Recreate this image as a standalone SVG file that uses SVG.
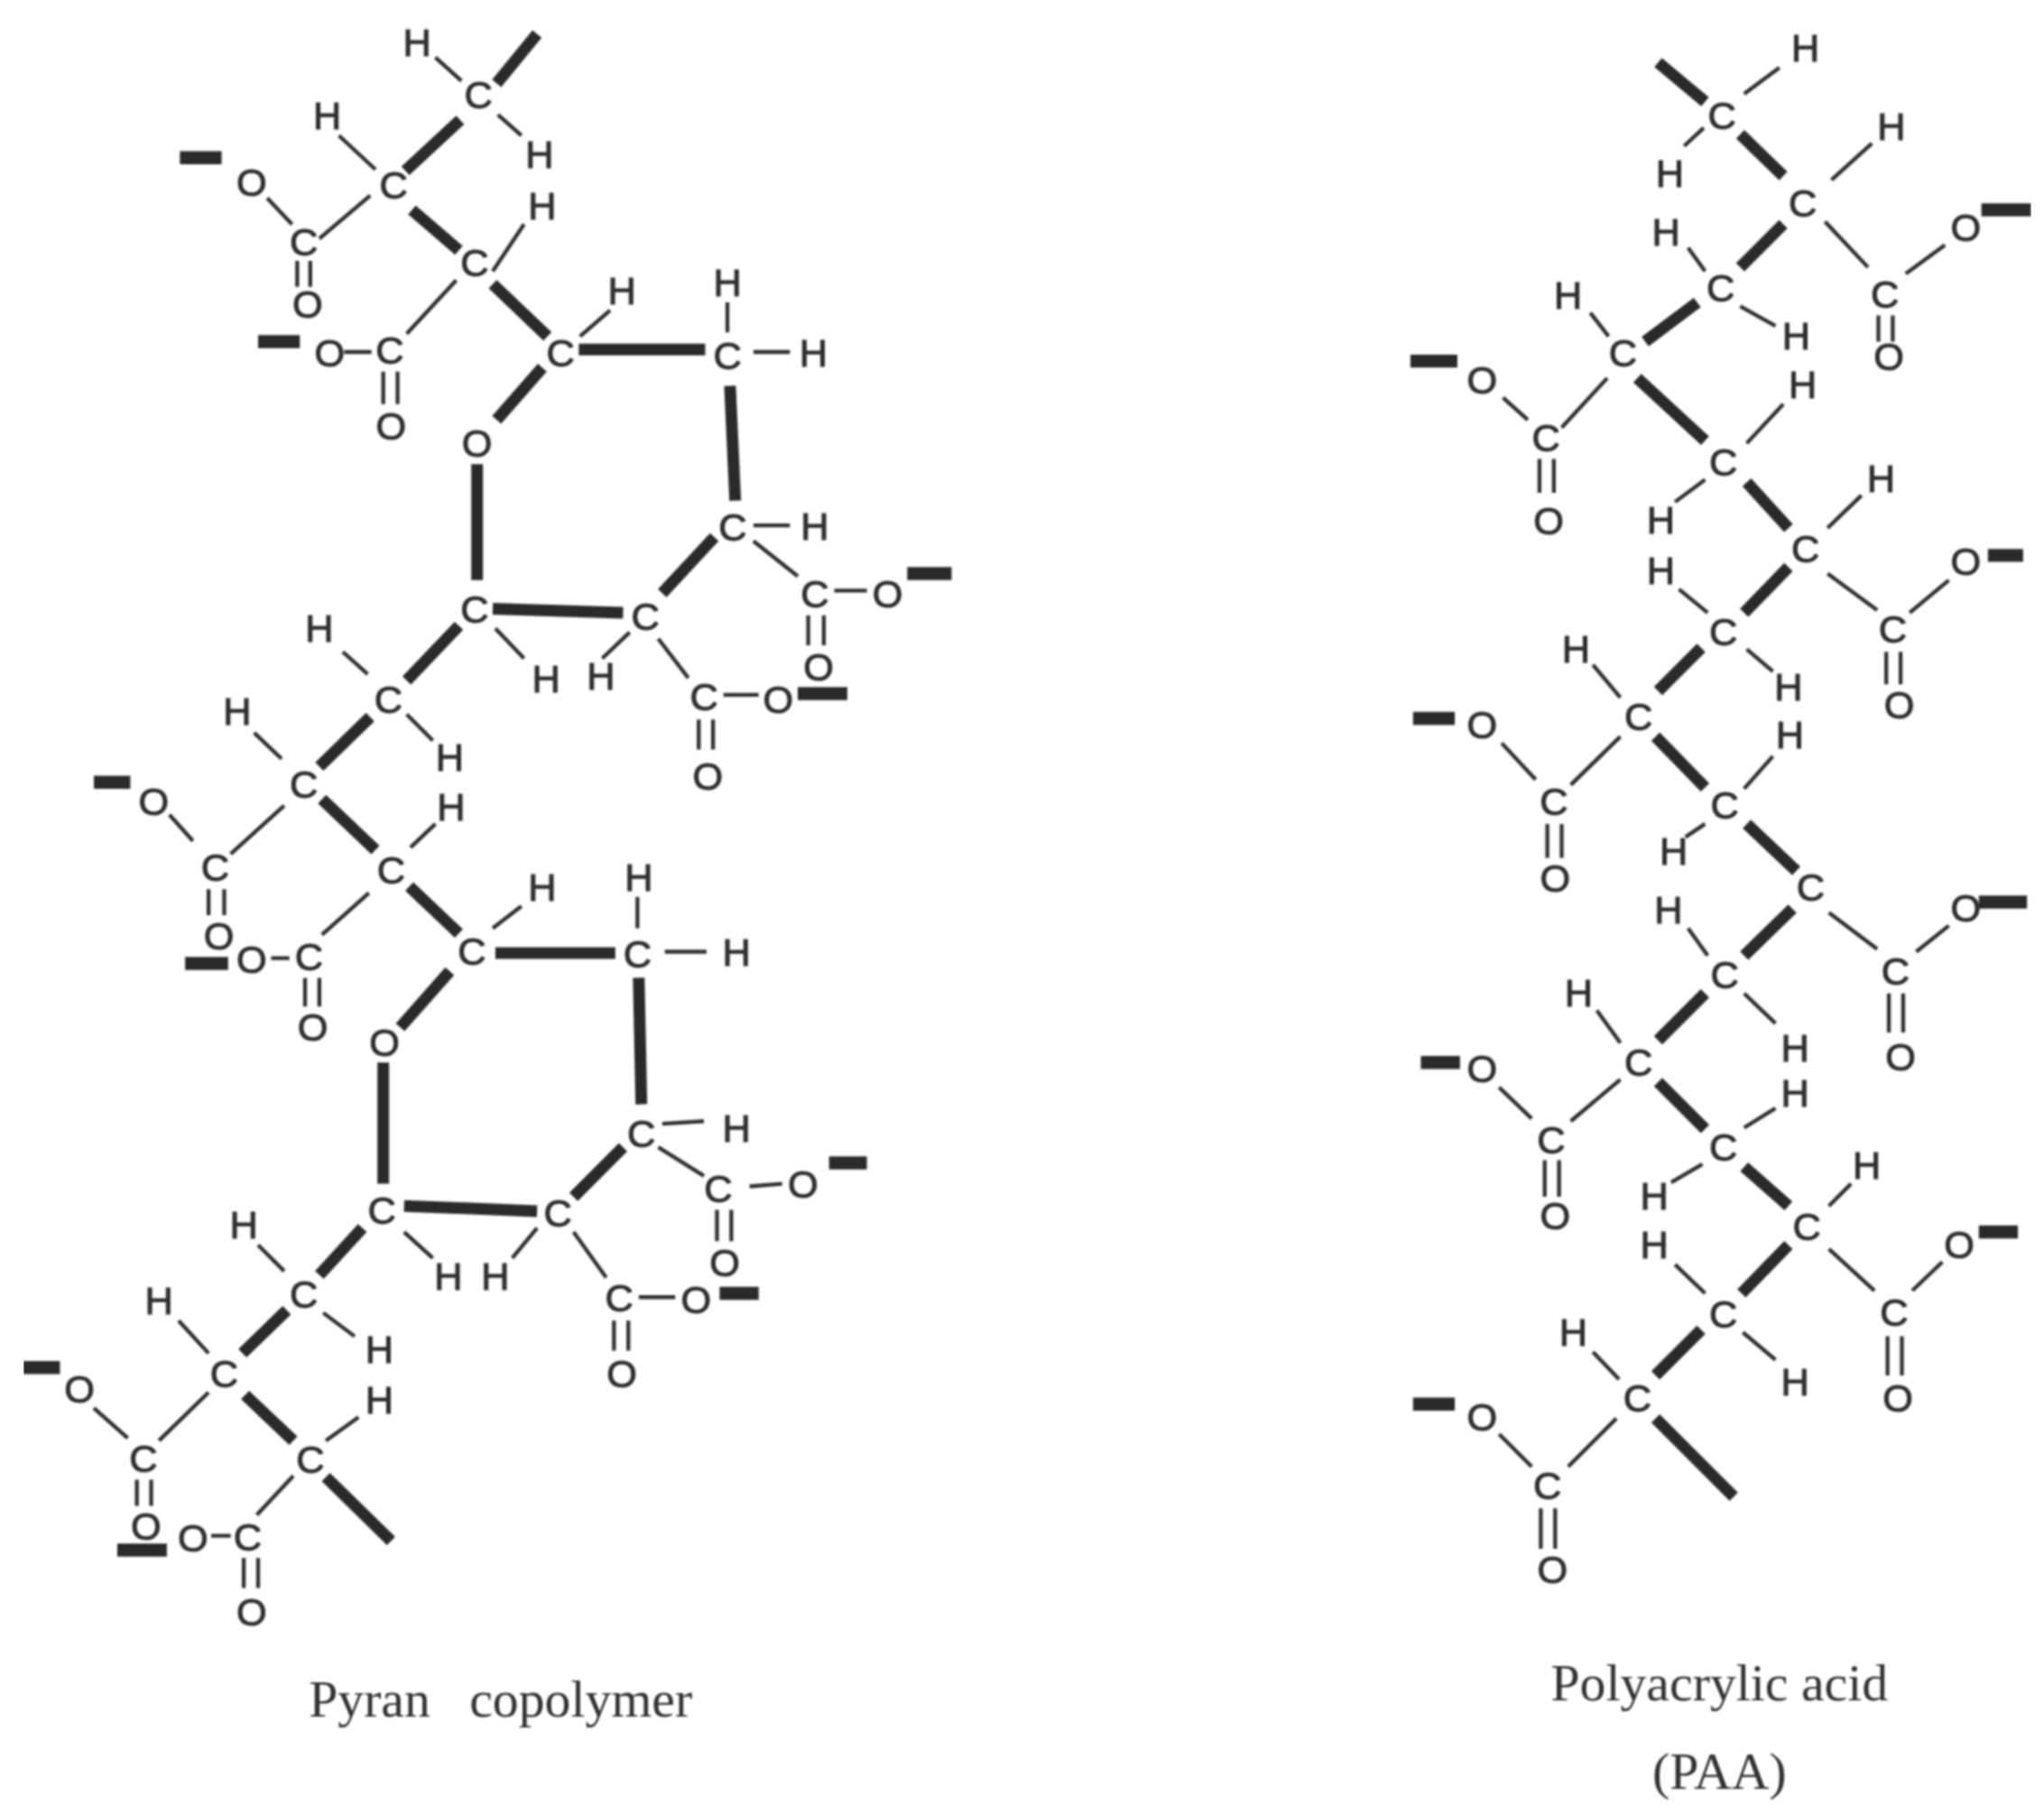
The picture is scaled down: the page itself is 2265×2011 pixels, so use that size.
<svg xmlns="http://www.w3.org/2000/svg" width="2265" height="2011" viewBox="0 0 2265 2011">
<style>
.a{font-family:"Liberation Sans",Arial,sans-serif;font-size:30px;fill:#2e2e2e;stroke:#2e2e2e;stroke-width:.7;text-anchor:middle}
.l{font-family:"Liberation Serif","Times New Roman",serif;font-size:40px;fill:#333;text-anchor:middle;white-space:pre}
.k{fill:none;stroke:#2b2b2b;stroke-width:9}
.s{fill:none;stroke:#2b2b2b;stroke-width:10}
.t{fill:none;stroke:#333;stroke-width:3}
</style>
<defs><filter id="soft" x="0" y="0" width="100%" height="100%"><feGaussianBlur stdDeviation="0.7"/></filter></defs>
<rect width="2265" height="2011" fill="#fff"/>
<g transform="scale(1.4445)" filter="url(#soft)">
<g id="connectors">
<path class="k" d="M381 64L412 26M353 92L311 131M316 161L352 192M378 218L420 258M444 268L541 268M416 282L381 322M560 296L564 384M366 356L366 445M548 412L508 455M378 467L478 470M352 480L312 522M284 550L245 588M247 613L288 652M314 680L352 716M380 731L472 731M345 745L307 788M490 750L492 847M294 815L294 908M478 880L440 918M310 925L412 929M278 942L245 978M220 1005L186 1038M188 1070L225 1105M250 1133L300 1182"/>
<path class="s" d="M138 121L170 121M198 262L230 262M696 440L730 440M612 532L650 532M72 600L100 600M142 739L175 739M636 892L665 892M552 992L582 992M18 1049L46 1049M90 1189L128 1189"/>
<path class="t" d="M334 44L354 62M382 88L400 104M260 104L288 130M205 152L224 172M245 183L284 150M228 200L228 220M238 200L238 220M378 208L402 172M350 215L312 256M264 270L285 270M294 285L294 310M305 285L305 310M445 258L468 238M558 232L558 255M578 270L606 270M578 403L606 403M578 415L612 442M640 453L665 453M620 472L620 495M632 472L632 495M505 490L528 520M555 533L582 533M536 552L536 575M547 552L547 575M380 482L402 505M483 485L462 505M263 500L282 517M312 548L332 568M195 562L216 582M130 625L148 645M177 655L218 618M160 682L160 702M172 682L172 702M315 650L334 632M283 685L247 717M208 735L222 735M234 750L234 772M245 750L245 772M378 712L400 695M489 688L489 712M510 730L542 730M508 862L540 860M505 880L540 902M575 910L600 908M550 928L550 952M561 928L561 952M440 945L465 980M490 995L518 995M471 1013L471 1036M482 1013L482 1036M412 942L393 965M310 945L332 965M198 955L218 975M248 1007L272 1025M137 1013L160 1038M72 1080L98 1103M122 1105L160 1068M105 1135L105 1155M116 1135L116 1155M250 1105L275 1087M225 1132L197 1162M162 1178L177 1178M187 1195L187 1218M198 1195L198 1218"/>
<path class="k" d="M1272 48L1308 78M1335 103L1368 135M1368 172L1335 205M1302 232L1262 262M1256 290L1308 338M1340 370L1372 405M1372 435L1338 470M1305 497L1272 530M1270 565L1308 604M1340 632L1378 668M1375 697L1338 733M1308 762L1272 798M1272 830L1308 866M1338 895L1372 925M1372 955L1336 992M1305 1020L1270 1055M1270 1088L1330 1148"/>
<path class="s" d="M1520 161L1558 161M1082 277L1118 277M1525 426L1552 426M1084 551L1116 551M1518 692L1555 692M1090 815L1120 815M1518 945L1548 945M1084 1077L1116 1077"/>
<path class="t" d="M1338 72L1365 52M1307 98L1292 112M1405 138L1436 110M1400 170L1433 205M1462 210L1492 188M1441 242L1441 262M1452 242L1452 262M1295 190L1308 208M1335 235L1362 250M1220 240L1234 258M1153 305L1172 322M1198 328L1233 290M1181 352L1181 378M1192 352L1192 378M1340 340L1368 310M1308 368L1285 385M1402 405L1428 380M1402 440L1440 468M1465 470L1495 445M1447 500L1447 525M1458 500L1458 525M1288 452L1310 470M1340 498L1360 515M1222 510L1243 535M1152 570L1178 598M1205 602L1243 565M1187 632L1187 658M1198 632L1198 658M1338 605L1360 580M1308 632L1293 642M1403 700L1440 728M1470 730L1495 710M1449 762L1449 792M1460 762L1460 792M1295 712L1310 733M1338 762L1362 785M1225 775L1243 800M1150 834L1175 858M1205 860L1243 828M1185 890L1185 918M1196 890L1196 918M1338 865L1362 850M1306 893L1282 907M1403 925L1420 908M1403 958L1438 990M1467 990L1490 968M1448 1025L1448 1055M1459 1025L1459 1055M1285 970L1308 992M1337 1022L1362 1043M1222 1037L1242 1058M1150 1100L1175 1125M1203 1125L1240 1088M1182 1157L1182 1188M1193 1157L1193 1188"/>
</g>
<g id="pyran-copolymer">
<g id="p1"><text class="a" x="320" y="43">H</text></g>
<g id="p2"><text class="a" x="367" y="83">C</text></g>
<g id="p3"><text class="a" x="414" y="129">H</text></g>
<g id="p4"><text class="a" x="251" y="99">H</text></g>
<g id="p5"><text class="a" x="302" y="152">C</text></g>
<g id="p6"><text class="a" x="193" y="150">O</text></g>
<g id="p7"><text class="a" x="233" y="196">C</text></g>
<g id="p8"><text class="a" x="236" y="244">O</text></g>
<g id="p9"><text class="a" x="416" y="168">H</text></g>
<g id="p10"><text class="a" x="364" y="212">C</text></g>
<g id="p11"><text class="a" x="299" y="279">C</text></g>
<g id="p12"><text class="a" x="253" y="281">O</text></g>
<g id="p13"><text class="a" x="300" y="337">O</text></g>
<g id="p14"><text class="a" x="430" y="281">C</text></g>
<g id="p15"><text class="a" x="477" y="233">H</text></g>
<g id="p16"><text class="a" x="558" y="283">C</text></g>
<g id="p17"><text class="a" x="558" y="227">H</text></g>
<g id="p18"><text class="a" x="624" y="281">H</text></g>
<g id="p19"><text class="a" x="562" y="415">C</text></g>
<g id="p20"><text class="a" x="625" y="414">H</text></g>
<g id="p21"><text class="a" x="625" y="466">C</text></g>
<g id="p22"><text class="a" x="681" y="466">O</text></g>
<g id="p23"><text class="a" x="628" y="522">O</text></g>
<g id="p24"><text class="a" x="495" y="483">C</text></g>
<g id="p25"><text class="a" x="461" y="529">H</text></g>
<g id="p26"><text class="a" x="540" y="545">C</text></g>
<g id="p27"><text class="a" x="597" y="547">O</text></g>
<g id="p28"><text class="a" x="543" y="606">O</text></g>
<g id="p29"><text class="a" x="364" y="478">C</text></g>
<g id="p30"><text class="a" x="419" y="531">H</text></g>
<g id="p31"><text class="a" x="366" y="350">O</text></g>
<g id="p32"><text class="a" x="298" y="547">C</text></g>
<g id="p33"><text class="a" x="245" y="492">H</text></g>
<g id="p34"><text class="a" x="345" y="591">H</text></g>
<g id="p35"><text class="a" x="233" y="612">C</text></g>
<g id="p36"><text class="a" x="182" y="556">H</text></g>
<g id="p37"><text class="a" x="118" y="625">O</text></g>
<g id="p38"><text class="a" x="165" y="676">C</text></g>
<g id="p39"><text class="a" x="168" y="728">O</text></g>
<g id="p40"><text class="a" x="300" y="678">C</text></g>
<g id="p41"><text class="a" x="346" y="629">H</text></g>
<g id="p42"><text class="a" x="237" y="744">C</text></g>
<g id="p43"><text class="a" x="193" y="746">O</text></g>
<g id="p44"><text class="a" x="240" y="798">O</text></g>
<g id="p45"><text class="a" x="362" y="740">C</text></g>
<g id="p46"><text class="a" x="416" y="691">H</text></g>
<g id="p47"><text class="a" x="489" y="742">C</text></g>
<g id="p48"><text class="a" x="490" y="683">H</text></g>
<g id="p49"><text class="a" x="565" y="741">H</text></g>
<g id="p50"><text class="a" x="295" y="810">O</text></g>
<g id="p51"><text class="a" x="492" y="880">C</text></g>
<g id="p52"><text class="a" x="565" y="876">H</text></g>
<g id="p53"><text class="a" x="551" y="922">C</text></g>
<g id="p54"><text class="a" x="616" y="919">O</text></g>
<g id="p55"><text class="a" x="556" y="979">O</text></g>
<g id="p56"><text class="a" x="293" y="939">C</text></g>
<g id="p57"><text class="a" x="344" y="989">H</text></g>
<g id="p58"><text class="a" x="428" y="941">C</text></g>
<g id="p59"><text class="a" x="380" y="989">H</text></g>
<g id="p60"><text class="a" x="475" y="1006">C</text></g>
<g id="p61"><text class="a" x="534" y="1007">O</text></g>
<g id="p62"><text class="a" x="477" y="1064">O</text></g>
<g id="p63"><text class="a" x="233" y="1003">C</text></g>
<g id="p64"><text class="a" x="187" y="950">H</text></g>
<g id="p65"><text class="a" x="291" y="1045">H</text></g>
<g id="p66"><text class="a" x="172" y="1064">C</text></g>
<g id="p67"><text class="a" x="122" y="1008">H</text></g>
<g id="p68"><text class="a" x="61" y="1076">O</text></g>
<g id="p69"><text class="a" x="110" y="1129">C</text></g>
<g id="p70"><text class="a" x="112" y="1181">O</text></g>
<g id="p71"><text class="a" x="238" y="1130">C</text></g>
<g id="p72"><text class="a" x="291" y="1084">H</text></g>
<g id="p73"><text class="a" x="190" y="1189">C</text></g>
<g id="p74"><text class="a" x="148" y="1190">O</text></g>
<g id="p75"><text class="a" x="193" y="1247">O</text></g>
<g id="pyran-label"><text class="l" x="384" y="1317" xml:space="preserve">Pyran   copolymer</text></g>
</g>
<g id="polyacrylic-acid">
<g id="r1"><text class="a" x="1385" y="47">H</text></g>
<g id="r2"><text class="a" x="1321" y="99">C</text></g>
<g id="r3"><text class="a" x="1281" y="143">H</text></g>
<g id="r4"><text class="a" x="1451" y="107">H</text></g>
<g id="r5"><text class="a" x="1383" y="166">C</text></g>
<g id="r6"><text class="a" x="1508" y="185">O</text></g>
<g id="r7"><text class="a" x="1446" y="236">C</text></g>
<g id="r8"><text class="a" x="1449" y="284">O</text></g>
<g id="r9"><text class="a" x="1278" y="188">H</text></g>
<g id="r10"><text class="a" x="1320" y="231">C</text></g>
<g id="r11"><text class="a" x="1378" y="268">H</text></g>
<g id="r12"><text class="a" x="1203" y="237">H</text></g>
<g id="r13"><text class="a" x="1245" y="281">C</text></g>
<g id="r14"><text class="a" x="1137" y="302">O</text></g>
<g id="r15"><text class="a" x="1186" y="346">C</text></g>
<g id="r16"><text class="a" x="1188" y="410">O</text></g>
<g id="r17"><text class="a" x="1383" y="305">H</text></g>
<g id="r18"><text class="a" x="1322" y="365">C</text></g>
<g id="r19"><text class="a" x="1274" y="409">H</text></g>
<g id="r20"><text class="a" x="1443" y="377">H</text></g>
<g id="r21"><text class="a" x="1385" y="431">C</text></g>
<g id="r22"><text class="a" x="1508" y="441">O</text></g>
<g id="r23"><text class="a" x="1452" y="493">C</text></g>
<g id="r24"><text class="a" x="1457" y="551">O</text></g>
<g id="r25"><text class="a" x="1274" y="448">H</text></g>
<g id="r26"><text class="a" x="1322" y="495">C</text></g>
<g id="r27"><text class="a" x="1372" y="537">H</text></g>
<g id="r28"><text class="a" x="1209" y="508">H</text></g>
<g id="r29"><text class="a" x="1257" y="560">C</text></g>
<g id="r30"><text class="a" x="1137" y="566">O</text></g>
<g id="r31"><text class="a" x="1192" y="625">C</text></g>
<g id="r32"><text class="a" x="1193" y="684">O</text></g>
<g id="r33"><text class="a" x="1373" y="574">H</text></g>
<g id="r34"><text class="a" x="1323" y="628">C</text></g>
<g id="r35"><text class="a" x="1284" y="663">H</text></g>
<g id="r36"><text class="a" x="1389" y="691">C</text></g>
<g id="r37"><text class="a" x="1508" y="707">O</text></g>
<g id="r38"><text class="a" x="1454" y="755">C</text></g>
<g id="r39"><text class="a" x="1458" y="821">O</text></g>
<g id="r40"><text class="a" x="1280" y="708">H</text></g>
<g id="r41"><text class="a" x="1323" y="758">C</text></g>
<g id="r42"><text class="a" x="1377" y="814">H</text></g>
<g id="r43"><text class="a" x="1211" y="772">H</text></g>
<g id="r44"><text class="a" x="1257" y="825">C</text></g>
<g id="r45"><text class="a" x="1137" y="830">O</text></g>
<g id="r46"><text class="a" x="1190" y="885">C</text></g>
<g id="r47"><text class="a" x="1193" y="943">O</text></g>
<g id="r48"><text class="a" x="1377" y="849">H</text></g>
<g id="r49"><text class="a" x="1322" y="890">C</text></g>
<g id="r50"><text class="a" x="1269" y="928">H</text></g>
<g id="r51"><text class="a" x="1432" y="904">H</text></g>
<g id="r52"><text class="a" x="1386" y="951">C</text></g>
<g id="r53"><text class="a" x="1503" y="965">O</text></g>
<g id="r54"><text class="a" x="1453" y="1017">C</text></g>
<g id="r55"><text class="a" x="1456" y="1083">O</text></g>
<g id="r56"><text class="a" x="1269" y="965">H</text></g>
<g id="r57"><text class="a" x="1322" y="1018">C</text></g>
<g id="r58"><text class="a" x="1377" y="1070">H</text></g>
<g id="r59"><text class="a" x="1207" y="1032">H</text></g>
<g id="r60"><text class="a" x="1256" y="1083">C</text></g>
<g id="r61"><text class="a" x="1137" y="1097">O</text></g>
<g id="r62"><text class="a" x="1187" y="1150">C</text></g>
<g id="r63"><text class="a" x="1191" y="1214">O</text></g>
<g id="paa-label1"><text class="l" x="1319" y="1304">Polyacrylic acid</text></g>
<g id="paa-label2"><text class="l" x="1319" y="1372">(PAA)</text></g>
</g>
</g>
</svg>
